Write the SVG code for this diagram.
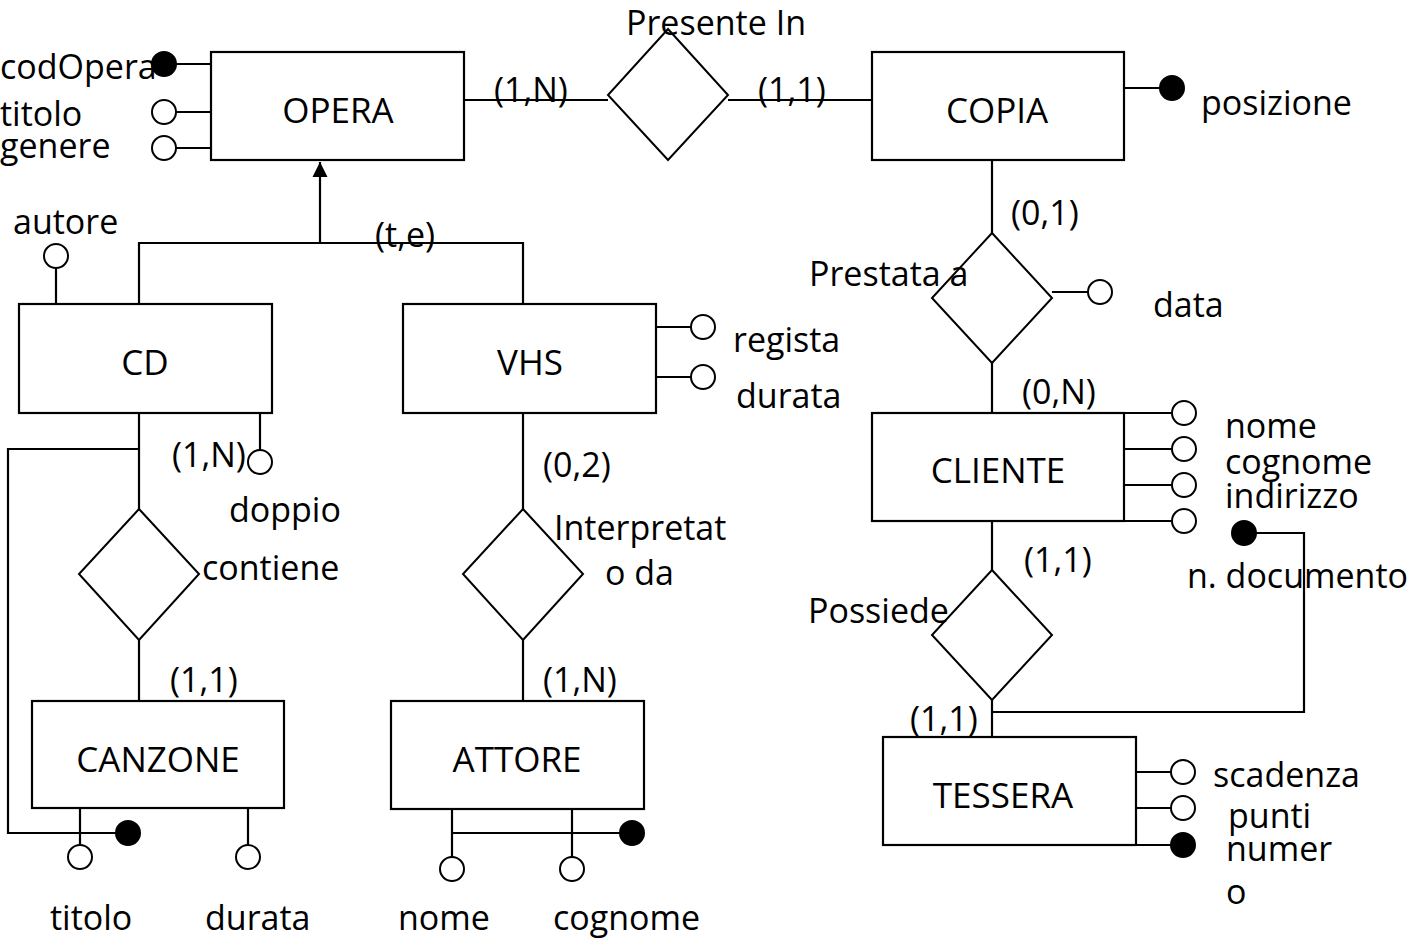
<svg xmlns="http://www.w3.org/2000/svg" width="1416" height="940" viewBox="0 0 1416 940">
<style>
text{font-family:"Open Sans","Liberation Sans",sans-serif;font-size:34px;fill:#000}
.ent{font-size:35px;text-anchor:middle}
.box{fill:#fff;stroke:#000;stroke-width:2.2}
.rel{fill:#fff;stroke:#000;stroke-width:2}
.ln{fill:none;stroke:#000;stroke-width:2.2}
.ao{fill:#fff;stroke:#000;stroke-width:2}
.ak{fill:#000;stroke:#000;stroke-width:2}
</style>
<defs>
<marker id="arr" markerWidth="16" markerHeight="16" refX="15" refY="8" orient="auto" markerUnits="userSpaceOnUse">
<path d="M0,0.5 L15,8 L0,15.5 Z" fill="#000"/>
</marker>
</defs>
<rect width="1416" height="940" fill="#fff"/>

<g id="connectors">
<path class="ln" d="M176,64 H211 M176,112 H211 M176,148 H211"/>
<path class="ln" d="M464,100 H608 M728,100 H872"/>
<path class="ln" d="M1124,88 H1160"/>
<path class="ln" d="M139,304 V243 H523 V304"/>
<path class="ln" d="M320,243 V162" marker-end="url(#arr)"/>
<path class="ln" d="M56,268 V304"/>
<path class="ln" d="M656,327 H691 M656,377 H691"/>
<path class="ln" d="M139,413 V509 M139,640 V701"/>
<path class="ln" d="M260,413 V450"/>
<path class="ln" d="M139,449 H8 V833 H116"/>
<path class="ln" d="M80,808 V845 M248,808 V845"/>
<path class="ln" d="M523,413 V509 M523,640 V701"/>
<path class="ln" d="M452,809 V857 M572,809 V857 M452,833 H620"/>
<path class="ln" d="M992,160 V233 M992,363 V413"/>
<path class="ln" d="M1052,292 H1088"/>
<path class="ln" d="M1124,413 H1172 M1124,449 H1172 M1124,485 H1172 M1124,521 H1172"/>
<path class="ln" d="M992,521 V570 M992,700 V737"/>
<path class="ln" d="M1256,533 H1304 V712 H992"/>
<path class="ln" d="M1136,772 H1171 M1136,808 H1171 M1136,845 H1171"/>
</g>

<g id="node-opera">
<rect class="box" x="211" y="52" width="253" height="108"/>
<text class="ent" x="338" y="123">OPERA</text>
</g>
<g id="attr-codOpera">
<circle class="ak" cx="164" cy="64" r="12"/>
<text x="0" y="79">codOpera</text>
</g>
<g id="attr-titolo-opera">
<circle class="ao" cx="164" cy="112" r="12"/>
<text x="0" y="126">titolo</text>
</g>
<g id="attr-genere">
<circle class="ao" cx="164" cy="148" r="12"/>
<text x="0" y="158">genere</text>
</g>

<g id="rel-presente-in">
<polygon class="rel" points="668,29 728,95 668,160 608,95"/>
<text x="626" y="35">Presente In</text>
</g>
<text x="494" y="102">(1,N)</text>
<text x="758" y="102">(1,1)</text>

<g id="node-copia">
<rect class="box" x="872" y="52" width="252" height="108"/>
<text class="ent" x="997" y="123">COPIA</text>
</g>
<g id="attr-posizione">
<circle class="ak" cx="1172" cy="88" r="12"/>
<text x="1201" y="115">posizione</text>
</g>

<text x="375" y="247">(t,e)</text>

<g id="node-cd">
<rect class="box" x="19" y="304" width="253" height="109"/>
<text class="ent" x="145" y="375">CD</text>
</g>
<g id="attr-autore">
<circle class="ao" cx="56" cy="256" r="12"/>
<text x="13" y="234">autore</text>
</g>
<g id="attr-doppio">
<circle class="ao" cx="260" cy="462" r="12"/>
<text x="229" y="522">doppio</text>
</g>

<g id="node-vhs">
<rect class="box" x="403" y="304" width="253" height="109"/>
<text class="ent" x="530" y="375">VHS</text>
</g>
<g id="attr-regista">
<circle class="ao" cx="703" cy="327" r="12"/>
<text x="733" y="352">regista</text>
</g>
<g id="attr-durata-vhs">
<circle class="ao" cx="703" cy="377" r="12"/>
<text x="736" y="408">durata</text>
</g>

<text x="172" y="467">(1,N)</text>
<g id="rel-contiene">
<polygon class="rel" points="139,509 199,574 139,640 79,574"/>
<text x="202" y="580">contiene</text>
</g>
<text x="170" y="692">(1,1)</text>

<text x="543" y="477">(0,2)</text>
<g id="rel-interpretato-da">
<polygon class="rel" points="523,509 583,574 523,640 463,574"/>
<text x="554" y="540">Interpretat</text>
<text x="605" y="585">o da</text>
</g>
<text x="543" y="692">(1,N)</text>

<g id="node-canzone">
<rect class="box" x="32" y="701" width="252" height="107"/>
<text class="ent" x="158" y="772">CANZONE</text>
</g>
<g id="attr-id-canzone">
<circle class="ak" cx="128" cy="833" r="12"/>
</g>
<g id="attr-titolo-canzone">
<circle class="ao" cx="80" cy="857" r="12"/>
<text x="50" y="930">titolo</text>
</g>
<g id="attr-durata-canzone">
<circle class="ao" cx="248" cy="857" r="12"/>
<text x="205" y="930">durata</text>
</g>

<g id="node-attore">
<rect class="box" x="391" y="701" width="253" height="108"/>
<text class="ent" x="517" y="772">ATTORE</text>
</g>
<g id="attr-id-attore">
<circle class="ak" cx="632" cy="833" r="12"/>
</g>
<g id="attr-nome-attore">
<circle class="ao" cx="452" cy="869" r="12"/>
<text x="398" y="930">nome</text>
</g>
<g id="attr-cognome-attore">
<circle class="ao" cx="572" cy="869" r="12"/>
<text x="553" y="930">cognome</text>
</g>

<text x="1011" y="225">(0,1)</text>
<g id="rel-prestata-a">
<polygon class="rel" points="992,233 1052,298 992,363 932,298"/>
<text x="809" y="286">Prestata a</text>
</g>
<g id="attr-data">
<circle class="ao" cx="1100" cy="292" r="12"/>
<text x="1153" y="317">data</text>
</g>
<text x="1022" y="404">(0,N)</text>

<g id="node-cliente">
<rect class="box" x="872" y="413" width="252" height="108"/>
<text class="ent" x="998" y="483">CLIENTE</text>
</g>
<g id="attr-nome-cliente">
<circle class="ao" cx="1184" cy="413" r="12"/>
<text x="1225" y="438">nome</text>
</g>
<g id="attr-cognome-cliente">
<circle class="ao" cx="1184" cy="449" r="12"/>
<text x="1225" y="474">cognome</text>
</g>
<g id="attr-indirizzo">
<circle class="ao" cx="1184" cy="485" r="12"/>
<text x="1225" y="508">indirizzo</text>
</g>
<g id="attr-extra-cliente">
<circle class="ao" cx="1184" cy="521" r="12"/>
</g>
<g id="attr-n-documento">
<circle class="ak" cx="1244" cy="533" r="12"/>
<text x="1187" y="588">n. documento</text>
</g>

<text x="1024" y="572">(1,1)</text>
<g id="rel-possiede">
<polygon class="rel" points="992,570 1052,635 992,700 932,635"/>
<text x="808" y="623">Possiede</text>
</g>
<text x="910" y="731">(1,1)</text>

<g id="node-tessera">
<rect class="box" x="883" y="737" width="253" height="108"/>
<text class="ent" x="1003" y="808">TESSERA</text>
</g>
<g id="attr-scadenza">
<circle class="ao" cx="1183" cy="772" r="12"/>
<text x="1213" y="787">scadenza</text>
</g>
<g id="attr-punti">
<circle class="ao" cx="1183" cy="808" r="12"/>
<text x="1228" y="828">punti</text>
</g>
<g id="attr-numero">
<circle class="ak" cx="1183" cy="845" r="12"/>
<text x="1226" y="861">numer</text>
<text x="1226" y="904">o</text>
</g>
</svg>
